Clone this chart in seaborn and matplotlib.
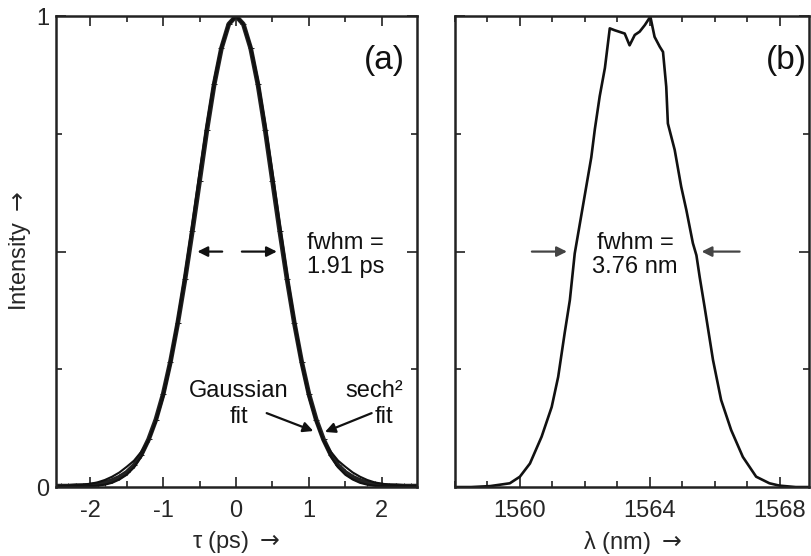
import matplotlib
matplotlib.use("Agg")
import matplotlib.pyplot as plt
import seaborn as sns
import pandas as pd
from matplotlib.ticker import MultipleLocator, FixedLocator

# ---------------- data ----------------
tau = [-2.5, -2.4, -2.3, -2.2, -2.1, -2.0, -1.9, -1.8, -1.7, -1.6, -1.5, -1.4, -1.3,
       -1.2, -1.1, -1.0, -0.9, -0.8, -0.7, -0.6, -0.5, -0.4, -0.3, -0.2, -0.1, 0.0,
       0.1, 0.2, 0.3, 0.4, 0.5, 0.6, 0.7, 0.8, 0.9, 1.0, 1.1, 1.2, 1.3, 1.4, 1.5,
       1.6, 1.7, 1.8, 1.9, 2.0, 2.1, 2.2, 2.3, 2.4, 2.5]
intensity_data = [0.002, 0.002, 0.002, 0.003, 0.003, 0.004, 0.006, 0.009, 0.014, 0.021,
                  0.031, 0.046, 0.069, 0.101, 0.143, 0.197, 0.266, 0.348, 0.441, 0.543,
                  0.650, 0.758, 0.855, 0.932, 0.983, 1.000,
                  0.983, 0.932, 0.855, 0.758, 0.650, 0.543, 0.441, 0.348, 0.266, 0.197,
                  0.143, 0.101, 0.069, 0.046, 0.031, 0.021, 0.014, 0.009, 0.006, 0.004,
                  0.003, 0.003, 0.002, 0.002, 0.002]
gauss_fit = [0.000, 0.000, 0.000, 0.000, 0.001, 0.002, 0.003, 0.005, 0.009, 0.016,
             0.026, 0.042, 0.065, 0.098, 0.142, 0.199, 0.270, 0.356, 0.453, 0.559,
             0.668, 0.772, 0.865, 0.937, 0.984, 1.000,
             0.984, 0.937, 0.865, 0.772, 0.668, 0.559, 0.453, 0.356, 0.270, 0.199,
             0.142, 0.098, 0.065, 0.042, 0.026, 0.016, 0.009, 0.005, 0.003, 0.002,
             0.001, 0.000, 0.000, 0.000, 0.000]
sech2_fit = [0.002, 0.002, 0.003, 0.004, 0.005, 0.007, 0.010, 0.015, 0.022, 0.031,
             0.043, 0.056, 0.075, 0.100, 0.139, 0.190, 0.260, 0.345, 0.440, 0.545,
             0.652, 0.758, 0.853, 0.930, 0.982, 1.000,
             0.982, 0.930, 0.853, 0.758, 0.652, 0.545, 0.440, 0.345, 0.260, 0.190,
             0.139, 0.100, 0.075, 0.056, 0.043, 0.031, 0.022, 0.015, 0.010, 0.007,
             0.005, 0.004, 0.003, 0.002, 0.002]

wavelength = [1558.0, 1558.5, 1559.08, 1559.69, 1560.0, 1560.31, 1560.67, 1560.98,
              1561.18, 1561.38, 1561.54, 1561.69, 1561.85, 1562.05, 1562.2, 1562.31,
              1562.46, 1562.62, 1562.77, 1562.92, 1563.23, 1563.38, 1563.54, 1563.69,
              1563.85, 1564.02, 1564.15, 1564.31, 1564.41, 1564.51, 1564.56, 1564.77,
              1564.97, 1565.13, 1565.33, 1565.44, 1565.54, 1565.69, 1565.95, 1566.2,
              1566.51, 1566.87, 1567.28, 1567.69, 1568.0, 1568.5, 1568.92]
spectrum = [0.0, 0.0, 0.002, 0.008, 0.022, 0.05, 0.107, 0.17,
            0.234, 0.327, 0.397, 0.496, 0.560, 0.640, 0.700, 0.760,
            0.830, 0.890, 0.974, 0.970, 0.963, 0.938, 0.96, 0.967,
            0.981, 0.999, 0.956, 0.935, 0.924, 0.85, 0.772, 0.716,
            0.638, 0.588, 0.518, 0.492, 0.446, 0.383, 0.27, 0.185,
            0.121, 0.064, 0.022, 0.008, 0.003, 0.0, 0.0]

tau_ticks = [-2, -1, 0, 1, 2]
lam_ticks = [1560, 1564, 1568]
y_ticks = [0, 0.5, 1]
y_ticklabels = ["0", "", "1"]

# ---------------- style ----------------
sns.set_style("ticks")
plt.rcParams["font.family"] = ["Liberation Sans", "DejaVu Sans"]
plt.rcParams["axes.unicode_minus"] = False
FS = 17
INK = "#111111"

fig = plt.figure(figsize=(8.11, 5.56), dpi=100)
ax1 = fig.add_axes([0.069, 0.124, 0.445, 0.847])
ax2 = fig.add_axes([0.561, 0.124, 0.437, 0.847])

df_a = pd.DataFrame({"tau": tau, "data": intensity_data,
                     "gauss": gauss_fit, "sech2": sech2_fit})
df_b = pd.DataFrame({"lam": wavelength, "I": spectrum})

# panel (a)
sns.lineplot(data=df_a, x="tau", y="data", ax=ax1, color="#222222", lw=3.4,
             marker="+", markersize=5, markeredgecolor="#222222")
sns.lineplot(data=df_a, x="tau", y="gauss", ax=ax1, color=INK, lw=1.5)
sns.lineplot(data=df_a, x="tau", y="sech2", ax=ax1, color=INK, lw=1.5)

# panel (b)
sns.lineplot(data=df_b, x="lam", y="I", ax=ax2, color=INK, lw=1.9)

for ax in (ax1, ax2):
    ax.set_ylim(0, 1)
    ax.tick_params(which="both", direction="in", top=True, right=True,
                   labelsize=FS, width=1.3, color="#333333", pad=9)
    ax.tick_params(which="major", length=7)
    ax.tick_params(which="minor", length=4)
    ax.yaxis.set_minor_locator(FixedLocator([0.25, 0.75]))
    for s in ax.spines.values():
        s.set_linewidth(1.8)
        s.set_color("#222222")

ax1.set_xlim(-2.47, 2.48)
ax1.xaxis.set_major_locator(FixedLocator(tau_ticks))
ax1.xaxis.set_minor_locator(MultipleLocator(0.5))
ax1.set_yticks(y_ticks, y_ticklabels)
ax1.tick_params(axis="y", pad=5)
ax1.set_xlabel(r"τ (ps) $\rightarrow$", fontsize=FS, labelpad=5)
ax1.set_ylabel(r"Intensity $\rightarrow$", fontsize=FS, labelpad=2)

ax2.set_xlim(1558.0, 1568.92)
ax2.xaxis.set_major_locator(FixedLocator(lam_ticks))
ax2.xaxis.set_minor_locator(MultipleLocator(1))
ax2.set_yticks(y_ticks, ["", "", ""])
ax2.set_xlabel(r"λ (nm) $\rightarrow$", fontsize=FS, labelpad=5)
ax2.set_ylabel("")

# annotations (a)
ax1.text(2.04, 0.905, "(a)", fontsize=24, ha="center", va="center", color=INK)
ax1.text(0.97, 0.493, "fwhm =\n1.91 ps", fontsize=FS, ha="left", va="center",
         linespacing=1.1, color=INK)
arr = dict(arrowstyle="-|>,head_length=0.6,head_width=0.3", color=INK, lw=1.6,
           shrinkA=0, shrinkB=0)
ax1.annotate("", xy=(-0.53, 0.5), xytext=(-0.19, 0.5), arrowprops=arr)
ax1.annotate("", xy=(0.56, 0.5), xytext=(0.08, 0.5), arrowprops=arr)
ax1.text(0.04, 0.204, "Gaussian", fontsize=FS, ha="center", va="center", color=INK)
ax1.text(0.04, 0.149, "fit", fontsize=FS, ha="center", va="center", color=INK)
ax1.text(1.9, 0.204, "sech²", fontsize=FS, ha="center", va="center", color=INK)
ax1.text(2.03, 0.149, "fit", fontsize=FS, ha="center", va="center", color=INK)
ax1.annotate("", xy=(1.06, 0.119), xytext=(0.42, 0.157), arrowprops=arr)
ax1.annotate("", xy=(1.22, 0.117), xytext=(1.86, 0.157), arrowprops=arr)

# annotations (b)
ax2.text(1568.2, 0.905, "(b)", fontsize=24, ha="center", va="center", color=INK)
ax2.text(1563.55, 0.493, "fwhm =\n3.76 nm", fontsize=FS, ha="center", va="center",
         linespacing=1.1, color=INK)
arr2 = dict(arrowstyle="-|>,head_length=0.6,head_width=0.3", color="#444444", lw=1.6,
            shrinkA=0, shrinkB=0)
ax2.annotate("", xy=(1561.45, 0.5), xytext=(1560.37, 0.5), arrowprops=arr2)
ax2.annotate("", xy=(1565.6, 0.5), xytext=(1566.77, 0.5), arrowprops=arr2)

fig.savefig("out.png", dpi=100)
